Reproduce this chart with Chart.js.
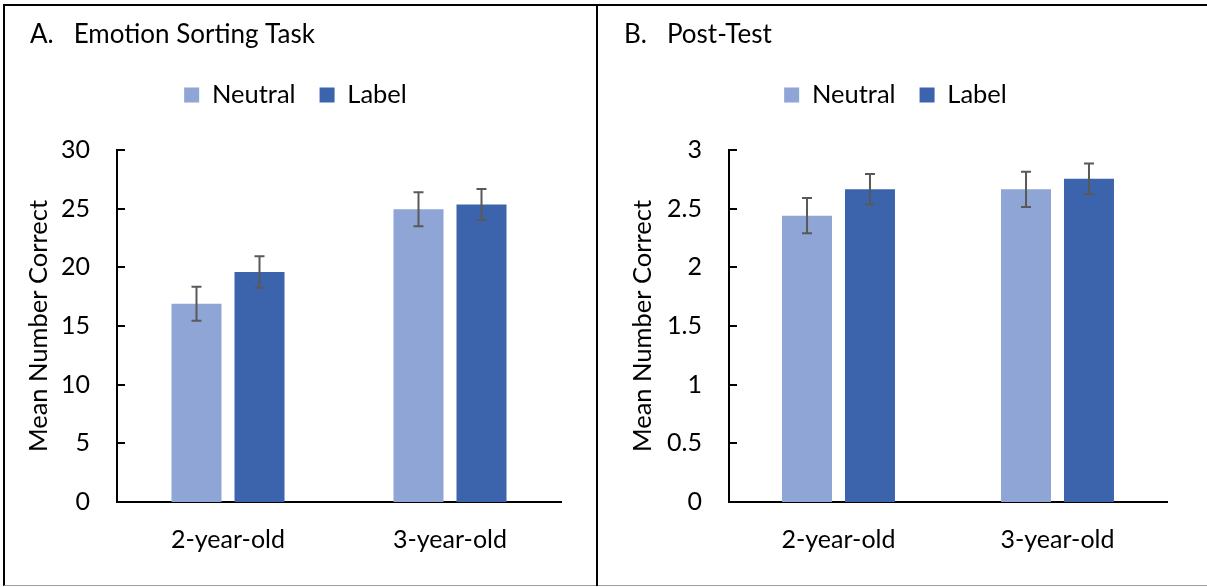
<!DOCTYPE html>
<html>
<head>
<meta charset="utf-8">
<script src="https://cdn.jsdelivr.net/npm/chart.js@4.4.1/dist/chart.umd.min.js"></script>
<style>
  body { margin: 0; background: #fff; width: 1207px; height: 587px; overflow: hidden; position: relative; }
  .frame { position: absolute; left: 3px; top: 4px; width: 1202px; height: 579px;
           border-top: 2px solid #000; border-left: 2px solid #000; border-bottom: 1px solid #a0a0a0; }
  .divider { position: absolute; left: 596px; top: 4px; width: 2px; height: 582px; background: #000; }
  .panel { position: absolute; top: 6px; height: 579px; }
</style>
</head>
<body>
<div class="frame"></div>
<div class="panel" style="left:5px; width:591px;"><canvas id="sortChart"></canvas></div>
<div class="panel" style="left:598px; width:609px;"><canvas id="postChart"></canvas></div>
<div class="divider"></div>

<script>
const groups = ['2-year-old', '3-year-old'];
const seriesNames = ['Neutral', 'Label'];
const seriesColors = ['#8FA5D6', '#3C64AD'];

// A. Emotion Sorting Task
const sortNeutral = [16.9, 24.95];
const sortLabel = [19.6, 25.35];
const sortNeutralErr = [1.45, 1.45];
const sortLabelErr = [1.35, 1.32];
const sortTicks = ['0', '5', '10', '15', '20', '25', '30'];

// B. Post-Test
const postNeutral = [2.44, 2.665];
const postLabel = [2.665, 2.755];
const postNeutralErr = [0.15, 0.15];
const postLabelErr = [0.13, 0.13];
const postTicks = ['0', '0.5', '1', '1.5', '2', '2.5', '3'];

Chart.defaults.font.family = 'Lato, "Open Sans", sans-serif';
Chart.defaults.font.size = 25;
Chart.defaults.color = '#000';

// extra room between legend and plot area
const legendSpace = {
    id: 'legendSpace',
    beforeInit(chart, args, opts) {
        const fit = chart.legend.fit;
        chart.legend.fit = function () {
            fit.call(this);
            this.height += opts.extra;
        };
    }
};

const errorBars = {
    id: 'errorBars',
    afterDatasetsDraw(chart) {
        const ctx = chart.ctx;
        const y = chart.scales.y;
        ctx.save();
        ctx.strokeStyle = '#595959';
        ctx.lineWidth = 2;
        chart.data.datasets.forEach((ds, i) => {
            chart.getDatasetMeta(i).data.forEach((bar, j) => {
                const v = ds.data[j], e = ds.errors[j];
                const top = y.getPixelForValue(v + e);
                const bot = y.getPixelForValue(v - e);
                ctx.beginPath();
                ctx.moveTo(bar.x, top); ctx.lineTo(bar.x, bot);
                ctx.moveTo(bar.x - 5, top); ctx.lineTo(bar.x + 5, top);
                ctx.moveTo(bar.x - 5, bot); ctx.lineTo(bar.x + 5, bot);
                ctx.stroke();
            });
        });
        ctx.restore();
    }
};

// tick marks point into the plot
const innerTicks = {
    id: 'innerTicks',
    afterDraw(chart) {
        const y = chart.scales.y;
        const ctx = chart.ctx;
        const x0 = chart.chartArea.left;
        ctx.save();
        ctx.strokeStyle = '#000';
        ctx.lineWidth = 2;
        y.ticks.forEach(t => {
            const py = Math.round(y.getPixelForValue(t.value));
            ctx.beginPath();
            ctx.moveTo(x0, py);
            ctx.lineTo(x0 + 8, py);
            ctx.stroke();
        });
        ctx.restore();
    }
};

function makeChart(id, p) {
    new Chart(document.getElementById(id), {
        type: 'bar',
        data: {
            labels: groups,
            datasets: [
                { label: seriesNames[0], data: p.neutral, errors: p.neutralErr, backgroundColor: seriesColors[0] },
                { label: seriesNames[1], data: p.label, errors: p.labelErr, backgroundColor: seriesColors[1] }
            ]
        },
        options: {
            responsive: true,
            maintainAspectRatio: false,
            animation: false,
            datasets: { bar: { categoryPercentage: p.catPct, barPercentage: 0.794 } },
            layout: { padding: { left: p.padLeft, right: p.padRight, top: 0, bottom: 0 } },
            plugins: {
                title: {
                    display: true, text: p.title, align: 'start', color: '#000',
                    font: { size: 26, weight: 'normal' },
                    padding: { top: 12.9, bottom: 8.15 }
                },
                legend: {
                    labels: { boxWidth: 15, boxHeight: 15, padding: 24, color: '#000', font: { size: 25.5 } }
                },
                legendSpace: { extra: 32.25 },
                tooltip: { enabled: false }
            },
            scales: {
                x: {
                    grid: { display: false, drawTicks: false },
                    border: { color: '#000', width: 2 },
                    ticks: { padding: 23, color: '#000', font: { size: 25 } },
                    afterFit: s => { s.height = 83; }
                },
                y: {
                    min: 0,
                    max: p.max,
                    grid: { display: false, drawTicks: false },
                    border: { color: '#000', width: 2 },
                    ticks: {
                        stepSize: p.step, padding: 27, color: '#000', font: { size: 25 },
                        callback: (v, i) => p.ticks[i]
                    },
                    title: {
                        display: true, text: 'Mean Number Correct', color: '#000',
                        font: { size: 25.5, lineHeight: 1 },
                        padding: { top: p.titlePad, bottom: 0 }
                    },
                    afterFit: s => { s.width = p.axisW; }
                }
            }
        },
        plugins: [legendSpace, errorBars, innerTicks]
    });
}

makeChart('sortChart', {
    title: 'A.   Emotion Sorting Task',
    neutral: sortNeutral, label: sortLabel,
    neutralErr: sortNeutralErr, labelErr: sortLabelErr,
    ticks: sortTicks, max: 30, step: 5,
    catPct: 0.5676, padLeft: 25, padRight: 35, axisW: 87, titlePad: -4.25
});

makeChart('postChart', {
    title: 'B.   Post-Test',
    neutral: postNeutral, label: postLabel,
    neutralErr: postNeutralErr, labelErr: postLabelErr,
    ticks: postTicks, max: 3, step: 0.5,
    catPct: 0.575, padLeft: 26, padRight: 40, axisW: 105, titlePad: 5.75
});
</script>
</body>
</html>
